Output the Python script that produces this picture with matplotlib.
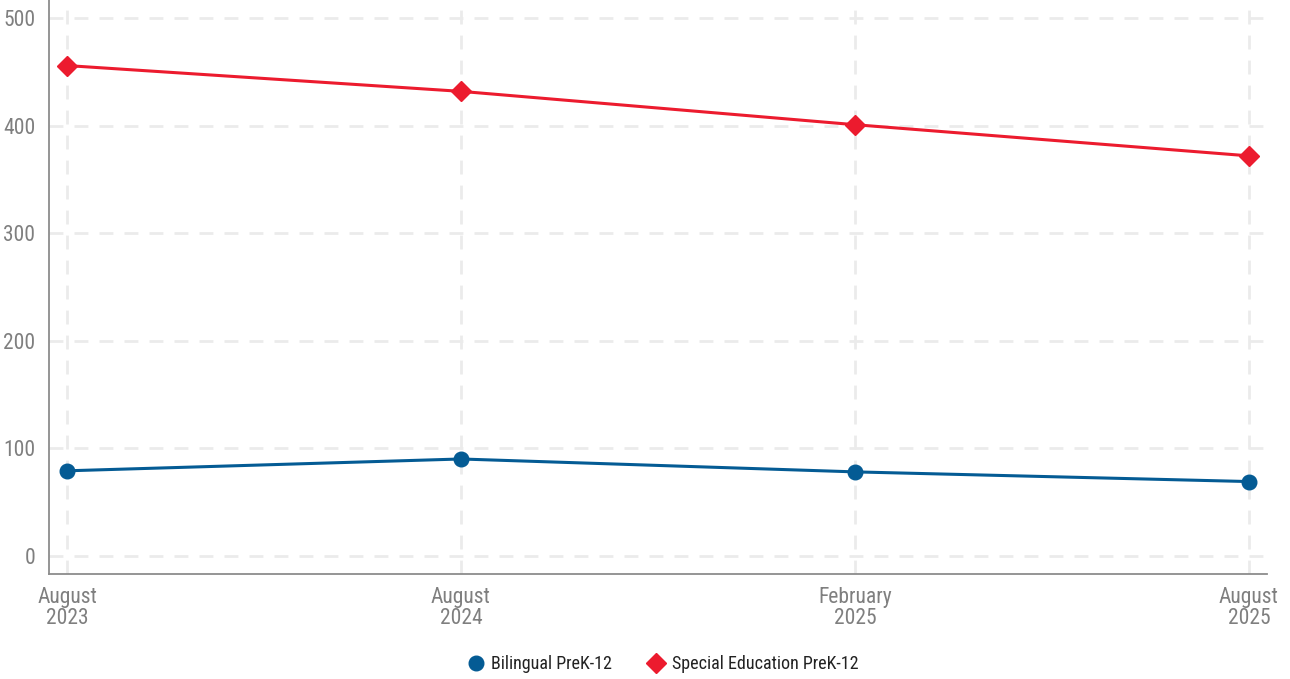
import matplotlib
matplotlib.use("Agg")
import matplotlib.pyplot as plt

# enrollment counts by reporting period
periods = ["August\n2023", "August\n2024", "February\n2025", "August\n2025"]
bilingual = [79, 90, 78, 69]
special_ed = [456, 432, 401, 372]
yticks = [0, 100, 200, 300, 400, 500]

plt.rcParams['font.family'] = ['Roboto Condensed', 'DejaVu Sans']

blue = "#045b94"
red = "#ec1b2e"
grid = "#ebebeb"
tickc = "#7f7f7f"

fig = plt.figure(figsize=(12.9, 6.79), dpi=100)
ax = fig.add_axes([49/1290, 1 - 574/679, (1267 - 49)/1290, 574/679])

x = list(range(len(periods)))
ax.plot(x, bilingual, color=blue, lw=2.2, marker='o', ms=10.5,
        label="Bilingual PreK-12", zorder=3)
ax.plot(x, special_ed, color=red, lw=2.2, marker='D', ms=10.5,
        label="Special Education PreK-12", zorder=3)

ax.set_xlim(-0.0457, 3.046)
ax.set_ylim(-17, 517)
ax.set_xticks(x)
ax.set_xticklabels(periods, fontsize=15.5, color=tickc, linespacing=1.05)
ax.set_yticks(yticks)
ax.set_yticklabels([str(v) for v in yticks], fontsize=15.5, color=tickc)
ax.tick_params(axis='y', length=0, pad=10)
ax.tick_params(axis='x', length=0, pad=9)

ax.grid(True, color=grid, lw=2, ls=(0, (5, 4)))
ax.set_axisbelow(True)
for s in ['top', 'right']:
    ax.spines[s].set_visible(False)
for s in ['left', 'bottom']:
    ax.spines[s].set_color("#8c8c8c")
    ax.spines[s].set_linewidth(1.3)

leg = fig.legend(loc='center', bbox_to_anchor=(0.514, 0.022), ncol=2, frameon=False,
                 fontsize=13, handlelength=0.9, handletextpad=0.4, columnspacing=2.0)
for t in leg.get_texts():
    t.set_color("#222222")
for h in leg.legend_handles:
    h.set_linestyle('none')

fig.savefig("out.png", dpi=100)
